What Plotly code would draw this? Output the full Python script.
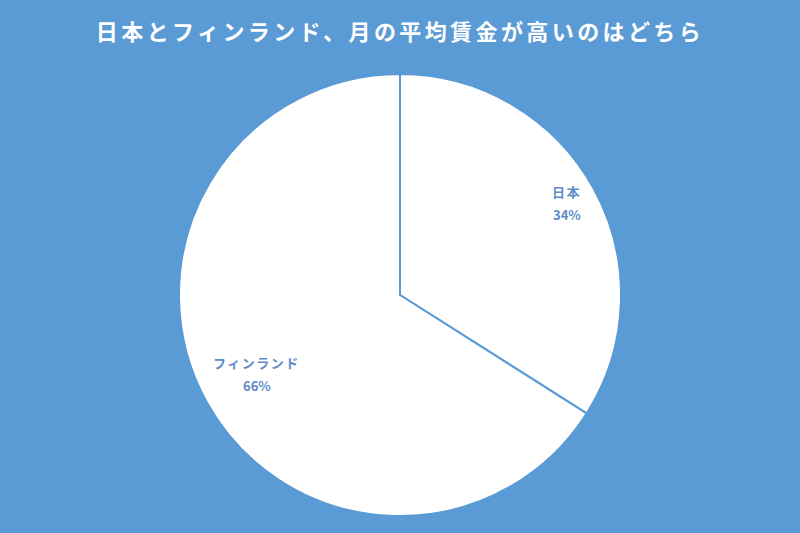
import math
import plotly.graph_objects as go

labels = ["日本", "フィンランド"]
values = [34, 66]
title_text = "日本とフィンランド、月の平均賃金が高いのはどちら"

# style: radial position of each label as a fraction of the radius
label_radius = [0.86, 0.74]

BG = "#5B9BD5"
LABEL_COLOR = "#5F8CC8"
W, H = 800, 533
M_T, M_B = 74, 17

fig = go.Figure(go.Pie(
    labels=labels,
    values=values,
    sort=False,
    direction="clockwise",
    rotation=0,
    marker=dict(colors=["#FFFFFF", "#FFFFFF"], line=dict(color=BG, width=2)),
    textinfo="none",
    showlegend=False,
    hoverinfo="label+percent",
))

# place labels at the slice mid-angles (computed from the values)
total = sum(values)
cum = 0
plot_h = H - M_T - M_B
radius = plot_h / 2
cx, cy = W / 2, M_T + radius
annotations = []
lab_font = dict(family="Noto Sans CJK JP", size=13, color=LABEL_COLOR, weight="bold")
for lab, v, rf in zip(labels, values, label_radius):
    mid = (cum + v / 2) / total * 2 * math.pi
    cum += v
    px = cx + radius * rf * math.sin(mid)
    py = cy - radius * rf * math.cos(mid)
    pct = round(v / total * 100)
    common = dict(x=px / W, y=(H - M_B - py) / plot_h, xref="paper", yref="paper",
                  xanchor="center", yanchor="middle", showarrow=False, font=lab_font)
    annotations.append(dict(text=f'<span style="letter-spacing:1.5px">{lab}</span>',
                            yshift=11.5, **common))
    annotations.append(dict(text=f"{pct}%", yshift=-11.5, **common))

fig.update_layout(
    width=W, height=H,
    paper_bgcolor=BG, plot_bgcolor=BG,
    margin=dict(l=0, r=0, t=M_T, b=M_B),
    annotations=annotations,
    title=dict(
        text='<span style="letter-spacing:3.4px">' + title_text + '</span>',
        x=0.5, xanchor="center", y=1 - 32 / H, yanchor="middle",
        font=dict(family="Noto Sans CJK JP", size=22, color="#FFFFFF", weight="bold"),
    ),
)

fig.write_html("out.html", config={"displayModeBar": False},
               post_script="document.body.style.margin='0';document.body.style.overflow='hidden';")
